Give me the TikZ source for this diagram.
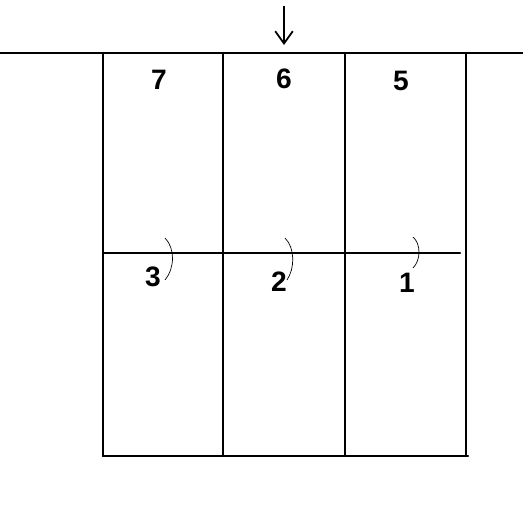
\documentclass[tikz,border=0pt]{standalone}
\usepackage{fontspec}
\setmainfont{Liberation Sans}
\usetikzlibrary{arrows.meta}

\begin{document}
\begin{tikzpicture}[x={0.02cm},y={-0.02cm}]

\tikzstyle{wall}=[line width={1.2pt},line cap={round}]
\tikzstyle{joint}=[line width={0.4pt}]
\tikzstyle{number}=[inner sep={0pt},font={\fontsize{16}{18}\selectfont\bfseries}]

\useasboundingbox (0,0) rectangle (523,523) ;

% frame: lines

\draw [wall] (0,53) -- (523,53) ;
\draw [wall] (103,456) -- (468,456) ;
\draw [wall] (103,253) -- (460,253) ;
\foreach \x in {103,223,345,466}
  \draw [wall] (\x,53) -- (\x,456) ;

% frame: joints

\draw [joint] (165,238) .. controls (175,248) and (175,268) .. (165,280) ;
\draw [joint] (285,238) .. controls (295,248) and (295,268) .. (287,280) ;
\draw [joint] (413,237) .. controls (421,244) and (421,260) .. (413,268) ;

% numbers

\node [number] (N7) at (159,80) {7} ;
\node [number] (N6) at (284,79) {6} ;
\node [number] (N5) at (401,81) {5} ;
\node [number] (N3) at (153,277) {3} ;
\node [number] (N2) at (279,282) {2} ;
\node [number] (N1) at (407,283) {1} ;

% arrow

\coordinate (A) at (284,6) ;
\coordinate (B) at (284,45) ;
\draw [-{Straight Barb[length=7pt,width=10pt]},line width={1pt}] (A) -- (B) ;

\end{tikzpicture}
\end{document}
